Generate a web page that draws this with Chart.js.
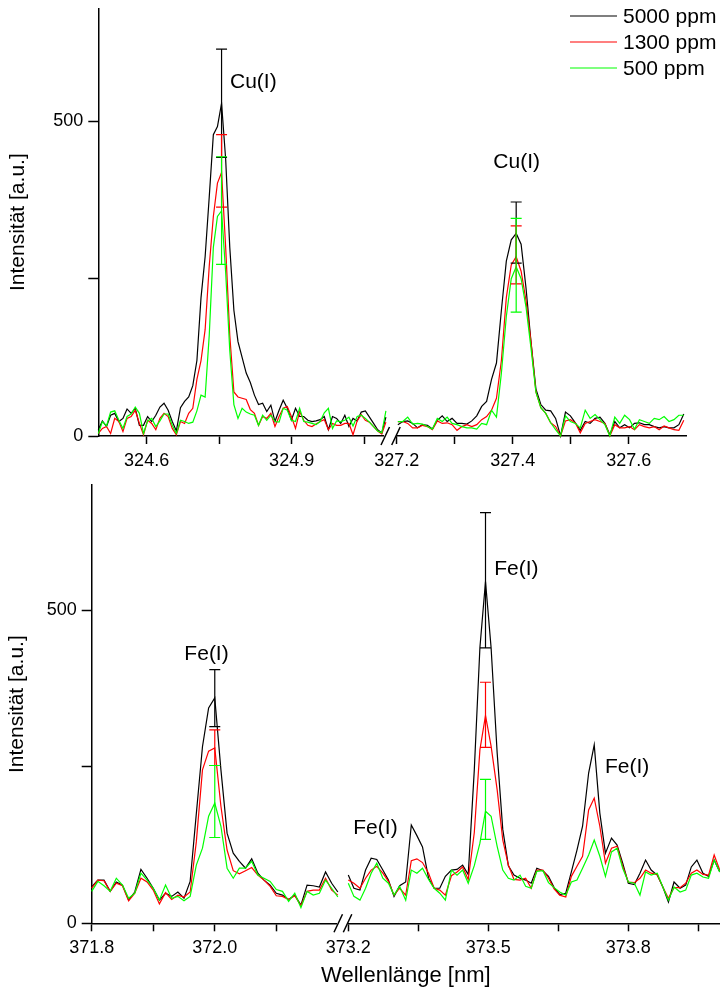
<!DOCTYPE html>
<html>
<head>
<meta charset="utf-8">
<script src="https://cdn.jsdelivr.net/npm/chart.js@4.4.0/dist/chart.umd.min.js"></script>
<style>
  html, body { margin: 0; padding: 0; background: #fff; }
  #top { position: absolute; left: 0; top: 0; width: 720px; height: 480px; }
  #bottom { position: absolute; left: 0; top: 480px; width: 720px; height: 515px; }
</style>
</head>
<body>
<div id="top"><canvas id="cuChart"></canvas></div>
<div id="bottom"><canvas id="feChart"></canvas></div>
<script>
// series
const seriesNames = ['5000 ppm', '1300 ppm', '500 ppm'];
const seriesColors = ['#000000', '#ff0000', '#00ff00'];

// Cu, left part of the broken axis
const wlCuA = [324.5000,324.5085,324.5170,324.5255,324.5340,324.5425,324.5510,324.5595,324.5680,324.5765,
  324.5850,324.5935,324.6020,324.6105,324.6190,324.6275,324.6360,324.6445,324.6530,324.6615,
  324.6700,324.6785,324.6870,324.6955,324.7040,324.7125,324.7210,324.7295,324.7380,324.7465,
  324.7550,324.7635,324.7720,324.7805,324.7890,324.7975,324.8060,324.8145,324.8230,324.8315,
  324.8400,324.8485,324.8570,324.8655,324.8740,324.8825,324.8910,324.8995,324.9080,324.9165,
  324.9250,324.9335,324.9420,324.9505,324.9590,324.9675,324.9760,324.9845,324.9930,325.0015,
  325.0100,325.0185,325.0270,325.0355,325.0440,325.0525,325.0610,325.0695,325.0780,325.0865,
  325.0950];
const cu5000A = [10,24,15,33,36,23,28,43,36,44, 17,17,31,23,33,46,52,41,23,8,
  45,55,62,80,120,220,285,380,479,492, 529,440,300,200,150,125,100,85,65,50,
  52,39,49,23,41,57,44,25,44,31, 31,25,23,24,26,31,10,31,28,20,
  33,15,28,24,38,40,30,20,10,5,30];
const cu1300A = [4,12,15,4,28,23,7,28,31,41, 20,2,25,20,10,28,36,31,12,2,
  23,20,36,44,90,120,169,270,349,402, 419,300,160,70,62,60,58,42,36,17,
  31,28,36,15,31,44,47,31,12,39, 25,17,15,19,23,26,10,20,17,17,
  20,20,2,24,34,25,22,15,8,3,22];
const cu500A = [4,23,16,38,40,25,12,31,35,46, 36,4,24,28,15,24,35,35,17,4,
  25,23,20,22,40,65,62,160,300,349, 358,260,136,50,28,44,38,35,33,17,
  33,25,33,23,22,44,41,25,23,44, 23,22,20,18,23,37,44,12,24,23,
  25,30,16,31,33,28,22,15,8,5,40];

// Cu, right part of the broken axis
const wlCuB = [327.2020,327.2105,327.2190,327.2275,327.2360,327.2445,327.2530,327.2615,327.2700,327.2785,
  327.2870,327.2955,327.3040,327.3125,327.3210,327.3295,327.3380,327.3465,327.3550,327.3635,
  327.3720,327.3805,327.3890,327.3975,327.4060,327.4145,327.4230,327.4315,327.4400,327.4485,
  327.4570,327.4655,327.4740,327.4825,327.4910,327.4995,327.5080,327.5165,327.5250,327.5335,
  327.5420,327.5505,327.5590,327.5675,327.5760,327.5845,327.5930,327.6015,327.6100,327.6185,
  327.6270,327.6355,327.6440,327.6525,327.6610,327.6695,327.6780,327.6865,327.6950];
const cu5000B = [18,23,24,20,13,18,17,11,25,32, 23,28,20,20,19,24,32,47,55,90,
  116,200,278,312,322,305,235,150,75,50, 41,40,28,0,38,32,21,9,23,20,
  28,30,20,2,23,13,18,13,20,21, 18,18,15,13,15,13,13,18,35];
const cu1300B = [23,23,20,13,13,17,15,10,24,20, 21,18,9,15,18,15,18,26,31,41,
  60,120,220,272,285,262,215,150,70,45, 36,21,15,0,24,26,21,5,20,23,
  26,23,20,0,18,13,13,15,10,18, 15,13,15,10,16,13,10,9,25];
const cu500B = [23,23,30,19,20,19,15,11,28,23, 30,20,18,15,13,13,11,20,18,41,
  30,100,190,250,269,250,205,140,70,45, 36,21,10,0,32,23,20,13,41,28,
  34,26,18,0,30,20,33,26,11,26, 23,20,28,26,31,23,26,33,33];

// Fe, left part
const wlFeA = [371.80,371.81,371.82,371.83,371.84,371.85,371.86,371.87,371.88,371.89,
  371.90,371.91,371.92,371.93,371.94,371.95,371.96,371.97,371.98,371.99,
  372.00,372.01,372.02,372.03,372.04,372.05,372.06,372.07,372.08,372.09,
  372.10,372.11,372.12,372.13,372.14,372.15,372.16,372.17,372.18,372.19,372.20];
const fe5000A = [58,69,69,51,66,61,37,50,86,72, 56,37,48,43,50,40,67,175,282,344,
  360,245,144,112,99,88,103,80,69,61, 48,45,38,45,29,61,60,58,82,64,50];
const fe1300A = [56,69,68,51,64,60,36,48,72,66, 53,31,49,38,45,42,50,130,245,275,
  280,187,117,84,79,84,89,77,69,59, 44,43,38,44,28,51,53,53,72,53,45];
const fe500A = [51,67,60,51,72,61,40,48,80,69, 56,37,61,40,43,36,43,93,120,171,
  192,155,88,72,88,88,99,77,72,67, 54,51,35,48,25,51,45,48,69,56,42];

// Fe, right part
const wlFeB = [373.200,373.212,373.225,373.237,373.249,373.261,373.274,373.286,373.298,373.310,
  373.323,373.335,373.347,373.359,373.372,373.384,373.396,373.408,373.421,373.433,
  373.445,373.457,373.470,373.482,373.494,373.506,373.519,373.531,373.543,373.555,
  373.568,373.580,373.592,373.604,373.617,373.629,373.641,373.653,373.666,373.678,
  373.690,373.702,373.715,373.727,373.739,373.751,373.764,373.776,373.788,373.800,
  373.813,373.825,373.837,373.849,373.862,373.874,373.886,373.898,373.911,373.923,
  373.935,373.947,373.960,373.972,373.984,373.996];
const fe5000B = [77,56,53,85,104,102,85,69,43,60, 66,157,140,122,72,56,56,75,85,86,
  93,78,245,440,546,440,272,150,92,77, 72,69,64,88,84,75,57,46,48,82,
  117,155,240,285,176,112,136,125,96,64, 62,80,101,85,77,58,34,66,56,61,
  90,101,80,75,101,82];
const fe1300B = [69,64,56,72,85,91,80,67,45,56, 45,100,103,97,80,56,53,45,76,82,
  90,70,145,277,332,283,213,133,93,70, 69,72,56,85,85,72,55,45,42,75,
  91,107,181,200,155,96,120,123,91,66, 65,72,85,80,78,58,40,57,57,64,
  80,85,78,77,109,85];
const fe500B = [64,43,37,56,80,96,72,64,45,59, 37,85,80,88,70,56,48,37,85,77,
  85,64,92,128,179,171,123,85,72,69, 77,59,56,83,84,65,57,50,45,66,
  69,88,109,133,107,75,114,120,88,66, 64,45,82,77,80,58,37,58,50,53,
  77,80,74,72,101,82];

// error bars (one per peak, per series)
const cuErrX = [324.755, 327.406];
const cuErrAxis = ['xa', 'xb'];
const cuErrLo = [[443, 275], [364, 242], [273, 197]];
const cuErrHi = [[615, 372], [479, 334], [444, 346]];
const feErrX = [372.0, 373.494];
const feErrAxis = ['xa', 'xb'];
const feErrLo = [[314, 440], [252, 281], [137, 134]];
const feErrHi = [[405, 656], [309, 385], [252, 230]];

// line labels
const cuNoteText = ['Cu(I)', 'Cu(I)'];
const cuNoteX = [324.7725, 327.3666];
const cuNoteAxis = ['xa', 'xb'];
const cuNoteY = [563, 435];
const feNoteText = ['Fe(I)', 'Fe(I)', 'Fe(I)', 'Fe(I)'];
const feNoteX = [371.9506, 373.5128, 373.75, 373.2107];
const feNoteAxis = ['xa', 'xb', 'xb', 'xb'];
const feNoteY = [430, 565, 249, 152];

// ticks
const cuTicksA = [324.6, 324.75, 324.9, 325.05];
const cuLabelsA = ['324.6', '', '324.9', ''];
const cuTicksB = [327.2, 327.3, 327.4, 327.5, 327.6];
const cuLabelsB = ['327.2', '', '327.4', '', '327.6'];
const feTicksA = [371.8, 371.9, 372.0, 372.1];
const feLabelsA = ['371.8', '', '372.0', ''];
const feTicksB = [373.2, 373.35, 373.5, 373.65, 373.8, 373.95];
const feLabelsB = ['373.2', '', '373.5', '', '373.8', ''];
const yTicks = [0, 250, 500];
const yLabels = ['0', '', '500'];

const FONT = '"Liberation Sans", Arial, Helvetica, sans-serif';
Chart.defaults.font.family = FONT;
Chart.defaults.color = '#000';

function pts(xs, ys) {
  return xs.map((x, i) => ({ x: x, y: ys[i] }));
}

function lineSets(xsA, setsA, xsB, setsB) {
  const out = [];
  for (let s = 0; s < 3; s++) {
    const common = {
      label: seriesNames[s], borderColor: seriesColors[s], backgroundColor: seriesColors[s],
      borderWidth: 1.2, pointRadius: 0, fill: false, tension: 0, clip: false,
      yAxisID: 'y', order: 3 - s
    };
    out.push(Object.assign({}, common, { data: pts(xsA, setsA[s]), xAxisID: 'xa' }));
    out.push(Object.assign({}, common, { data: pts(xsB, setsB[s]), xAxisID: 'xb' }));
  }
  return out;
}

// no extra padding from edge labels, the layout is fixed by hand
function noPad(s) {
  s.paddingTop = 0; s.paddingBottom = 0; s.paddingLeft = 0; s.paddingRight = 0;
}

function xScale(min, max, weight, ticks, labels, h) {
  return {
    type: 'linear', position: 'bottom', stack: 'wl', stackWeight: weight,
    min: min, max: max,
    afterBuildTicks: (s) => { s.ticks = ticks.map(v => ({ value: v })); },
    afterFit: (s) => { s.height = h; noPad(s); },
    ticks: {
      autoSkip: false, maxRotation: 0, minRotation: 0, padding: 6, color: '#000',
      font: { size: 18 }, callback: (v, i) => labels[i]
    },
    grid: { display: true, drawOnChartArea: false, drawTicks: true, tickLength: 8, tickColor: '#000', tickWidth: 1.5 },
    border: { display: true, color: '#000', width: 1.5 }
  };
}

function gapScale(weight, h) {
  return {
    type: 'linear', position: 'bottom', stack: 'wl', stackWeight: weight, min: 0, max: 1,
    afterFit: (s) => { s.height = h; noPad(s); },
    ticks: { display: false }, grid: { display: false }, border: { display: false }
  };
}

function yScale(max, w, titlePad) {
  return {
    type: 'linear', position: 'left', min: 0, max: max,
    afterBuildTicks: (s) => { s.ticks = yTicks.map(v => ({ value: v })); },
    afterFit: (s) => { s.width = w; noPad(s); },
    ticks: { padding: 5, color: '#000', font: { size: 18 }, callback: (v, i) => yLabels[i] },
    grid: { display: true, drawOnChartArea: false, drawTicks: true, tickLength: 10, tickColor: '#000', tickWidth: 1.5 },
    border: { display: true, color: '#000', width: 1.5 },
    title: { display: true, text: 'Intensität [a.u.]', color: '#000', font: { size: 21 }, padding: { top: titlePad, bottom: 0 } }
  };
}

function makeDecor(errX, errAxis, errLo, errHi, noteText, noteX, noteAxis, noteY, showLegend) {
  return {
    id: 'decor',
    afterDatasetsDraw(chart) {
      const ctx = chart.ctx;
      const ys = chart.scales.y;
      ctx.save();
      ctx.lineWidth = 1.2;
      for (let s = 0; s < 3; s++) {
        ctx.strokeStyle = seriesColors[s];
        for (let j = 0; j < errX.length; j++) {
          const px = chart.scales[errAxis[j]].getPixelForValue(errX[j]);
          const p1 = ys.getPixelForValue(errLo[s][j]);
          const p2 = ys.getPixelForValue(errHi[s][j]);
          ctx.beginPath();
          ctx.moveTo(px, p1); ctx.lineTo(px, p2);
          ctx.moveTo(px - 5.5, p1); ctx.lineTo(px + 5.5, p1);
          ctx.moveTo(px - 5.5, p2); ctx.lineTo(px + 5.5, p2);
          ctx.stroke();
        }
      }
      ctx.restore();
    },
    afterDraw(chart) {
      const ctx = chart.ctx;
      const ys = chart.scales.y;
      ctx.save();
      // peak labels
      ctx.fillStyle = '#000';
      ctx.font = '21px ' + FONT;
      ctx.textAlign = 'left';
      ctx.textBaseline = 'middle';
      for (let i = 0; i < noteText.length; i++) {
        ctx.fillText(noteText[i], chart.scales[noteAxis[i]].getPixelForValue(noteX[i]), ys.getPixelForValue(noteY[i]));
      }
      // axis break marks
      const a = chart.scales.xa, b = chart.scales.xb;
      const yb = chart.chartArea.bottom;
      ctx.strokeStyle = '#000';
      ctx.lineWidth = 1.5;
      ctx.beginPath();
      ctx.moveTo(a.right - 2, yb + 9); ctx.lineTo(a.right + 6.5, yb - 9);
      ctx.moveTo(b.left - 5, yb + 9); ctx.lineTo(b.left + 3.5, yb - 9);
      ctx.stroke();
      // legend
      if (showLegend) {
        ctx.font = '21px ' + FONT;
        ctx.lineWidth = 1.2;
        for (let s = 0; s < 3; s++) {
          const ly = 16 + 26 * s;
          ctx.strokeStyle = seriesColors[s];
          ctx.beginPath();
          ctx.moveTo(570, ly); ctx.lineTo(617, ly);
          ctx.stroke();
          ctx.fillStyle = '#000';
          ctx.fillText(seriesNames[s], 623, ly + 1);
        }
      }
      ctx.restore();
    }
  };
}

new Chart(document.getElementById('cuChart'), {
  type: 'line',
  data: { datasets: lineSets(wlCuA, [cu5000A, cu1300A, cu500A], wlCuB, [cu5000B, cu1300B, cu500B]) },
  options: {
    responsive: true, maintainAspectRatio: false, animation: false,
    layout: { padding: { top: 8.3, right: 33.3, bottom: 0, left: 0 } },
    scales: {
      y: yScale(680, 98.3, 5.5),
      xa: xScale(324.5, 325.089, 284.7, cuTicksA, cuLabelsA, 44),
      xg: gapScale(13.7, 44),
      xb: xScale(327.2, 327.7, 290, cuTicksB, cuLabelsB, 44)
    },
    plugins: { legend: { display: false }, tooltip: { enabled: false } }
  },
  plugins: [makeDecor(cuErrX, cuErrAxis, cuErrLo, cuErrHi, cuNoteText, cuNoteX, cuNoteAxis, cuNoteY, true)]
});

new Chart(document.getElementById('feChart'), {
  type: 'line',
  data: { datasets: lineSets(wlFeA, [fe5000A, fe1300A, fe500A], wlFeB, [fe5000B, fe1300B, fe500B]) },
  options: {
    responsive: true, maintainAspectRatio: false, animation: false,
    layout: { padding: { top: 5, right: 0, bottom: 5.8, left: 0 } },
    scales: {
      y: yScale(700, 91.7, 4.5),
      xa: xScale(371.8, 372.197, 244.3, feTicksA, feLabelsA, 36),
      xg: gapScale(12.3, 36),
      xb: xScale(373.2, 373.9965, 371.7, feTicksB, feLabelsB, 36)
    },
    plugins: {
      legend: { display: false }, tooltip: { enabled: false },
      title: {
        display: true, text: 'Wellenlänge [nm]', position: 'bottom', fullSize: false,
        color: '#000', font: { size: 22, weight: 'normal' }, padding: { top: 3.5, bottom: 0 }
      }
    }
  },
  plugins: [makeDecor(feErrX, feErrAxis, feErrLo, feErrHi, feNoteText, feNoteX, feNoteAxis, feNoteY, false)]
});
</script>
</body>
</html>
